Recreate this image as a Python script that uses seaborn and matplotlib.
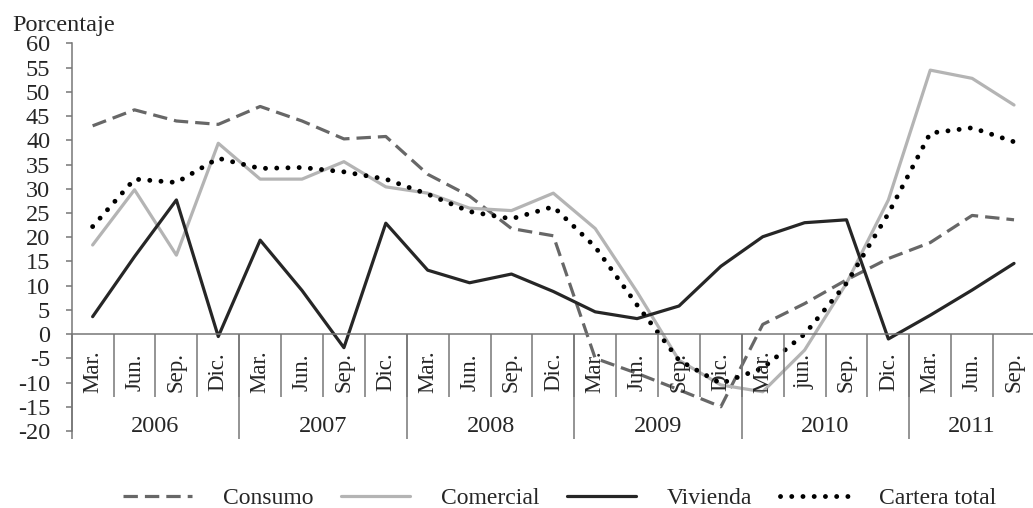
import numpy as np
import pandas as pd
import matplotlib.pyplot as plt
import seaborn as sns

sns.set_style('white')
plt.rcParams['font.family'] = ['Liberation Serif', 'DejaVu Serif']
plt.rcParams['axes.unicode_minus'] = False

# Quarter labels and years
quarters = ['Mar.', 'Jun.', 'Sep.', 'Dic.',
            'Mar.', 'Jun.', 'Sep.', 'Dic.',
            'Mar.', 'Jun.', 'Sep.', 'Dic.',
            'Mar.', 'Jun.', 'Sep.', 'Dic.',
            'Mar.', 'jun.', 'Sep.', 'Dic.',
            'Mar.', 'Jun.', 'Sep.']
years = ['2006', '2007', '2008', '2009', '2010', '2011']
quarters_per_year = [4, 4, 4, 4, 4, 3]

# Series (porcentaje)
consumo = [43.0, 46.3, 44.0, 43.3, 47.0, 44.0, 40.3, 40.8, 33.0, 28.5, 21.8, 20.3,
           -5.0, -8.1, -11.5, -15.0, 2.0, 6.3, 11.2, 15.6, 18.9, 24.5, 23.6]
comercial = [18.4, 29.8, 16.3, 39.4, 32.0, 32.0, 35.6, 30.4, 29.1, 26.0, 25.5, 29.1,
             21.8, 8.7, -5.4, -10.5, -11.9, -3.3, 10.5, 27.7, 54.5, 52.8, 47.3]
vivienda = [3.6, 16.0, 27.7, -0.5, 19.4, 9.0, -2.8, 22.9, 13.2, 10.6, 12.4, 8.8,
            4.6, 3.2, 5.8, 14.0, 20.1, 23.0, 23.6, -1.0, 3.9, 9.1, 14.6]
cartera_total = [22.2, 32.0, 31.3, 36.3, 34.2, 34.4, 33.5, 32.0, 28.9, 25.3, 23.8, 26.3,
                 18.0, 6.0, -5.4, -10.2, -7.0, 0.0, 10.5, 24.9, 41.5, 42.6, 39.7]

axis_gray = '#767676'

fig = plt.figure(figsize=(10.33, 5.08), dpi=100)
ax = fig.add_axes([0.0694, 0.1516, 0.9325, 0.7628])

pos = np.arange(len(quarters))

# Draw the four series
sns.lineplot(x=pos, y=consumo, ax=ax, color='#676767', lw=2.3,
             linestyle=(0, (4.5, 2.2)), label='Consumo', legend=False)
sns.lineplot(x=pos, y=comercial, ax=ax, color='#b4b4b4', lw=2.3,
             label='Comercial', legend=False)
sns.lineplot(x=pos, y=vivienda, ax=ax, color='#262626', lw=2.3,
             label='Vivienda', legend=False)
sns.lineplot(x=pos, y=cartera_total, ax=ax, color='black', lw=3.5,
             linestyle=(0, (0.01, 2.3)), label='Cartera total', legend=False)
for ln in ax.lines:
    ln.set_solid_capstyle('round')
    ln.set_solid_joinstyle('round')
ax.lines[-1].set_dash_capstyle('round')

# Axes setup
ax.set_xlim(-0.5, len(quarters) - 0.5)
ax.set_ylim(-20, 60)
ax.set_yticks(np.arange(-20, 61, 5))
ax.set_xticks([])
for side in ['top', 'right']:
    ax.spines[side].set_visible(False)
ax.spines['bottom'].set_position(('data', 0))
ax.spines['bottom'].set_color(axis_gray)
ax.spines['bottom'].set_linewidth(1.1)
ax.spines['left'].set_color(axis_gray)
ax.spines['left'].set_linewidth(1.1)
ax.tick_params(axis='y', direction='out', length=4.5, width=1.1, color=axis_gray,
               pad=11, labelsize=17.5, left=True)
ax.grid(False)

# Quarter separators and labels
ax.vlines(pos[1:] - 0.5, -12.95, 0, colors=axis_gray, lw=1.1, clip_on=False)
for x, q in zip(pos, quarters):
    ax.text(x, -7.8, q, rotation=90, ha='center', va='center', fontsize=16.5)

# Year separators and labels
bounds = np.concatenate([[0], np.cumsum(quarters_per_year)]) - 0.5
ax.vlines(bounds, -21.7, 0, colors=axis_gray, lw=1.1, clip_on=False)
for i, y in enumerate(years):
    ax.text((bounds[i] + bounds[i + 1]) / 2, -19.1, y, ha='center', va='center',
            fontsize=17.5)

fig.text(12 / 1033, (508 - 31.5) / 508, 'Porcentaje', fontsize=17.5, va='baseline')

fig.legend(handles=ax.lines[:4], labels=['Consumo', 'Comercial', 'Vivienda', 'Cartera total'],
           ncol=4, loc='center', bbox_to_anchor=(560 / 1033, 10 / 508), frameon=False,
           fontsize=17, handlelength=2.9, handletextpad=1.3, columnspacing=1.2,
           borderaxespad=0, borderpad=0)

fig.savefig('out.png', dpi=100)
